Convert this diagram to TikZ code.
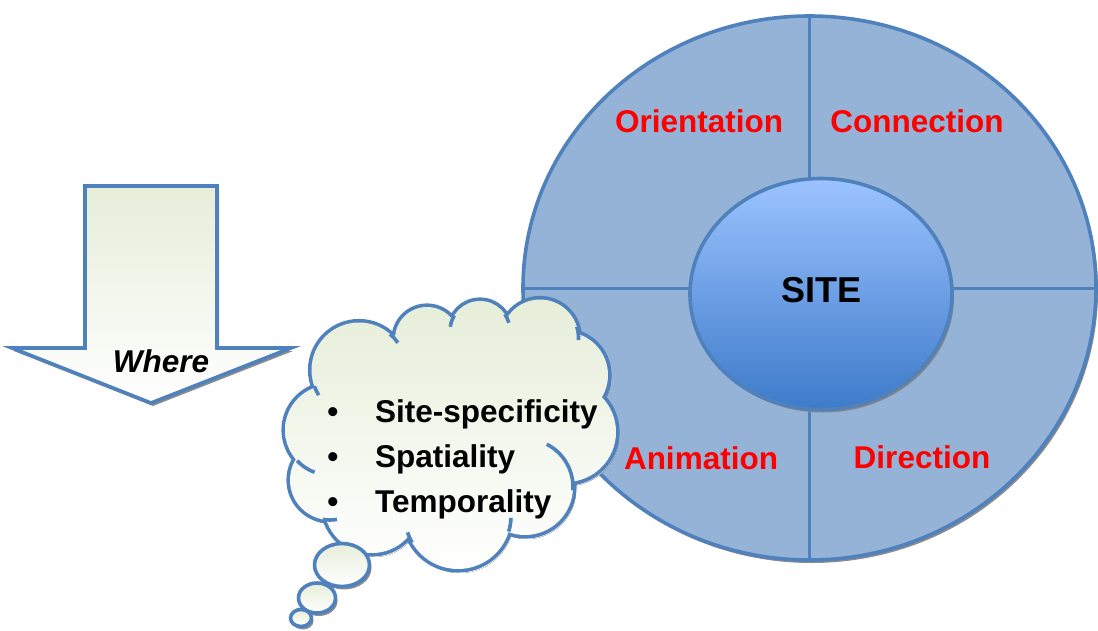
\documentclass[tikz,border=0pt]{standalone}
\usepackage{fontspec}
\setmainfont{Liberation Sans}
\usetikzlibrary{shapes.geometric,shadows}
\definecolor{edgeblue}{HTML}{4F81BD}
\definecolor{ringfill}{HTML}{95B3D7}
\definecolor{coretop}{HTML}{9CC3FF}
\definecolor{corebot}{HTML}{3D7BCA}
\definecolor{mint}{HTML}{E6EED9}
\definecolor{labelred}{HTML}{FF0000}
\definecolor{shade}{HTML}{808080}
\tikzset{
  outline/.style={draw=edgeblue, line width=3.6pt},
  softshadow/.style={general shadow={shadow xshift=2pt, shadow yshift=-3pt, fill=shade, opacity=0.9}},
  minty/.style={top color=mint, bottom color=white},
  bigtext/.style={font=\fontsize{31.5}{37}\selectfont\bfseries, inner sep=0pt},
  quarter/.style={bigtext, text=labelred},
  crease/.style={edgeblue, line width=3.6pt},
}
% lobes of the thought cloud: centre x / centre y / radius
\def\lobes{359/370/47.5, 427/339/32, 480/331/30, 540/338/38.5, 565/375/43,
  566/432/50, 525/487/48, 458/516/53, 372/505/48, 330/480/40, 330/430/45}
% hidden filler discs that close the inside of the cloud
\def\fillers{450/430/95, 500/360/28, 400/360/25}
\begin{document}
\begin{tikzpicture}[x=1pt,y=-1pt]
\useasboundingbox (0,0) rectangle (1098,630);

% outer ring with its four quarters
\node[ellipse, outline, fill=ringfill, inner sep=0pt, outer sep=0pt,
      minimum width=573pt, minimum height=544pt, softshadow] (ring) at (809.5,288) {};
\draw[edgeblue, line width=3pt] (ring.north) -- (ring.south);
\draw[edgeblue, line width=3pt] (ring.west) -- (ring.east);

% central ellipse
\node[ellipse, outline, top color=coretop, bottom color=corebot, inner sep=0pt,
      minimum width=262pt, minimum height=231pt, softshadow] (core) at (821,294) {};
\node[bigtext, font=\fontsize{36}{40}\selectfont\bfseries] (site) at (821,290) {SITE};

% quarter labels
\node[quarter] (orient) at (699,121) {Orientation};
\node[quarter] (conn) at (917,121) {Connection};
\node[quarter] (anim) at (701,458) {Animation};
\node[quarter] (dir) at (922,457) {Direction};

% downward arrow
\path[outline, minty, softshadow]
  (85,186) coordinate (a1) -- (217,186) -- (217,348) -- (291,348)
  -- (151,403) coordinate (tip) -- (12,348) -- (85,348) -- cycle;
\node[bigtext, font=\fontsize{31.5}{37}\selectfont\bfseries\itshape] (where) at (161,361) {Where};

% thought cloud: union of lobes, outlined by the outer half of a wide stroke
\coordinate (thought) at (450,430);
\begin{scope}[shift={(2,3)}]
  \fill[shade] foreach \cx/\cy/\r in \fillers {(\cx,\cy) circle[radius=\r]}
    foreach \cx/\cy/\r in \lobes {(\cx,\cy) circle[radius=\r+1]};
\end{scope}
\draw[edgeblue, line width=7.2pt]
  foreach \cx/\cy/\r in \lobes {(\cx,\cy) circle[radius=\r]};
\shade[minty] foreach \cx/\cy/\r in \fillers {(\cx,\cy) circle[radius=\r]}
  foreach \cx/\cy/\r in \lobes {(\cx,\cy) circle[radius=\r]};
% creases where one lobe runs into the next
\draw[crease] (359,370) ++(148:47.5) arc[start angle=148, end angle=160, radius=47.5];
\draw[crease] (359,370) ++(-49:47.5) arc[start angle=-49, end angle=-35, radius=47.5];
\draw[crease] (480,331) ++(188:30) arc[start angle=188, end angle=211, radius=30];
\draw[crease] (480,331) ++(-34:30) arc[start angle=-34, end angle=-16, radius=30];
\draw[crease] (540,338) ++(-17:38.5) arc[start angle=-17, end angle=3, radius=38.5];
\draw[crease] (525,487) ++(-63:48) arc[start angle=-63, end angle=4, radius=48];
\draw[crease] (458,516) ++(2:53) arc[start angle=2, end angle=17, radius=53];
\draw[crease] (458,516) ++(150:53) arc[start angle=150, end angle=162, radius=53];
\draw[crease] (330,430) ++(110:45) arc[start angle=110, end angle=137, radius=45];
\draw[crease] (330,480) ++(80:40) arc[start angle=80, end angle=100, radius=40];

% trailing bubbles
\node[ellipse, outline, minty, softshadow, minimum width=55pt, minimum height=43pt, inner sep=0pt] (b1) at (342,565) {};
\node[ellipse, outline, minty, softshadow, minimum width=37pt, minimum height=30pt, inner sep=0pt] (b2) at (317,598) {};
\node[ellipse, outline, minty, softshadow, minimum width=21pt, minimum height=17pt, inner sep=0pt] (b3) at (301,618) {};

% list inside the cloud
\node[bigtext, anchor=base] (d1) at (333,422) {•};
\node[bigtext, anchor=base] (d2) at (333,467) {•};
\node[bigtext, anchor=base] (d3) at (333,512) {•};
\node[bigtext, anchor=base west] (t1) at (375,422) {Site-specificity};
\node[bigtext, anchor=base west] (t2) at (375,467) {Spatiality};
\node[bigtext, anchor=base west] (t3) at (375,512) {Temporality};
\end{tikzpicture}
\end{document}
